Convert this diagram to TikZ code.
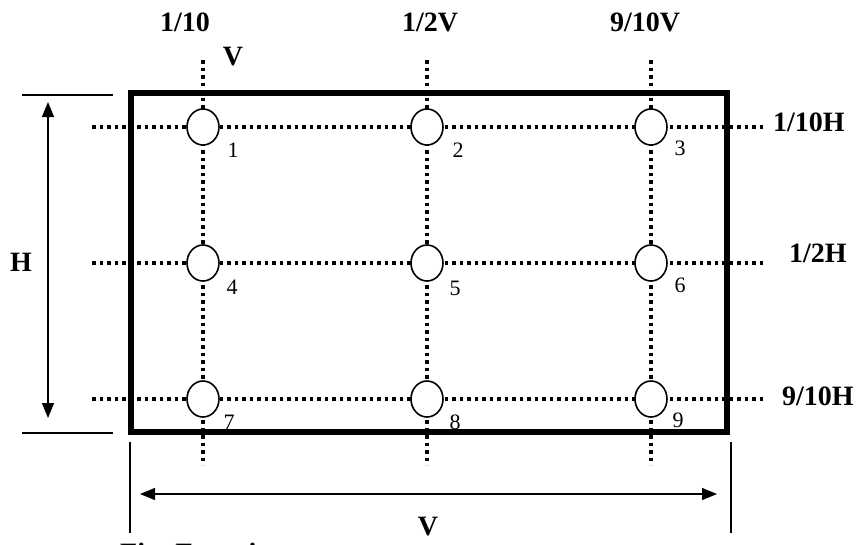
\documentclass[tikz,border=0pt]{standalone}
\usepackage{fontspec}
\setmainfont{Liberation Serif}
\usetikzlibrary{arrows.meta,shapes.geometric}
\begin{document}
\begin{tikzpicture}[x=1pt,y=-1pt,
  lbl/.style={font=\fontsize{28}{30}\selectfont\bfseries, inner sep=0pt},
  num/.style={font=\fontsize{22}{24}\selectfont, inner sep=0pt},
  spot/.style={draw, ellipse, fill=white, line width=1.6pt, minimum width=32pt, minimum height=36pt, inner sep=0pt},
  gridline/.style={line width=3.5pt, dash pattern=on 3.5pt off 4pt},
  frameline/.style={line width=6.5pt},
  dim/.style={line width=1.3pt},
  dimarrow/.style={dim, {Triangle[length=15pt,width=12pt]}-{Triangle[length=15pt,width=12pt]}}]
\useasboundingbox (0,0) rectangle (859,544);
\clip (0,0) rectangle (859,544);
% grid coordinates
\foreach \c/\x in {1/203,2/427,3/651} {
  \coordinate (vt\c) at (\x,60);
  \coordinate (vb\c) at (\x,465);
}
\foreach \r/\y in {1/127,2/263,3/399} {
  \coordinate (hl\r) at (92,\y);
  \coordinate (hr\r) at (765,\y);
}
% frame
\coordinate (fa) at (131,93);
\coordinate (fb) at (727,432);
\draw[frameline] (fa) rectangle (fb);
% dotted grid lines
\foreach \c in {1,2,3} \draw[gridline] (vt\c) -- (vb\c);
\foreach \r in {1,2,3} \draw[gridline] (hl\r) -- (hr\r);
% measuring spots
\node[spot] (e1) at (203,127) {};
\node[spot] (e2) at (427,127) {};
\node[spot] (e3) at (651,127) {};
\node[spot] (e4) at (203,263) {};
\node[spot] (e5) at (427,263) {};
\node[spot] (e6) at (651,263) {};
\node[spot] (e7) at (203,399) {};
\node[spot] (e8) at (427,399) {};
\node[spot] (e9) at (651,399) {};
% numbers
\node[num] (n1) at (233,150) {1};
\node[num] (n2) at (458,150) {2};
\node[num] (n3) at (680,148) {3};
\node[num] (n4) at (232,287) {4};
\node[num] (n5) at (455,288) {5};
\node[num] (n6) at (680,285) {6};
\node[num] (n7) at (229,422) {7};
\node[num] (n8) at (455,422) {8};
\node[num] (n9) at (678,420) {9};
% dimension H
\coordinate (ht1) at (22,95);
\coordinate (ht2) at (113,95);
\coordinate (hb1) at (22,433);
\coordinate (hb2) at (113,433);
\draw[dim] (ht1) -- (ht2);
\draw[dim] (hb1) -- (hb2);
\coordinate (ha) at (48,102);
\coordinate (hz) at (48,418);
\draw[dimarrow] (ha) -- (hz);
\node[lbl] (H) at (21,262) {H};
% dimension V
\coordinate (vl1) at (130,442);
\coordinate (vl2) at (130,533);
\coordinate (vr1) at (731,442);
\coordinate (vr2) at (731,533);
\draw[dim] (vl1) -- (vl2);
\draw[dim] (vr1) -- (vr2);
\coordinate (va) at (140,494);
\coordinate (vz) at (717,494);
\draw[dimarrow] (va) -- (vz);
\node[lbl] (Vb) at (428,527) {V};
% top labels
\node[lbl] (t1) at (185,22) {1/10};
\node[lbl] (t1v) at (233,57) {V};
\node[lbl] (t2) at (430,22) {1/2V};
\node[lbl] (t3) at (645,22) {9/10V};
% right labels
\node[lbl, anchor=west] (r1) at (773,122) {1/10H};
\node[lbl, anchor=west] (r2) at (789,253) {1/2H};
\node[lbl, anchor=west] (r3) at (782,396) {9/10H};
% caption (cut off at the bottom edge, as in the reference)
\node[lbl, anchor=base west] (cap) at (120,562) {Fig. Experiment};
\end{tikzpicture}
\end{document}
